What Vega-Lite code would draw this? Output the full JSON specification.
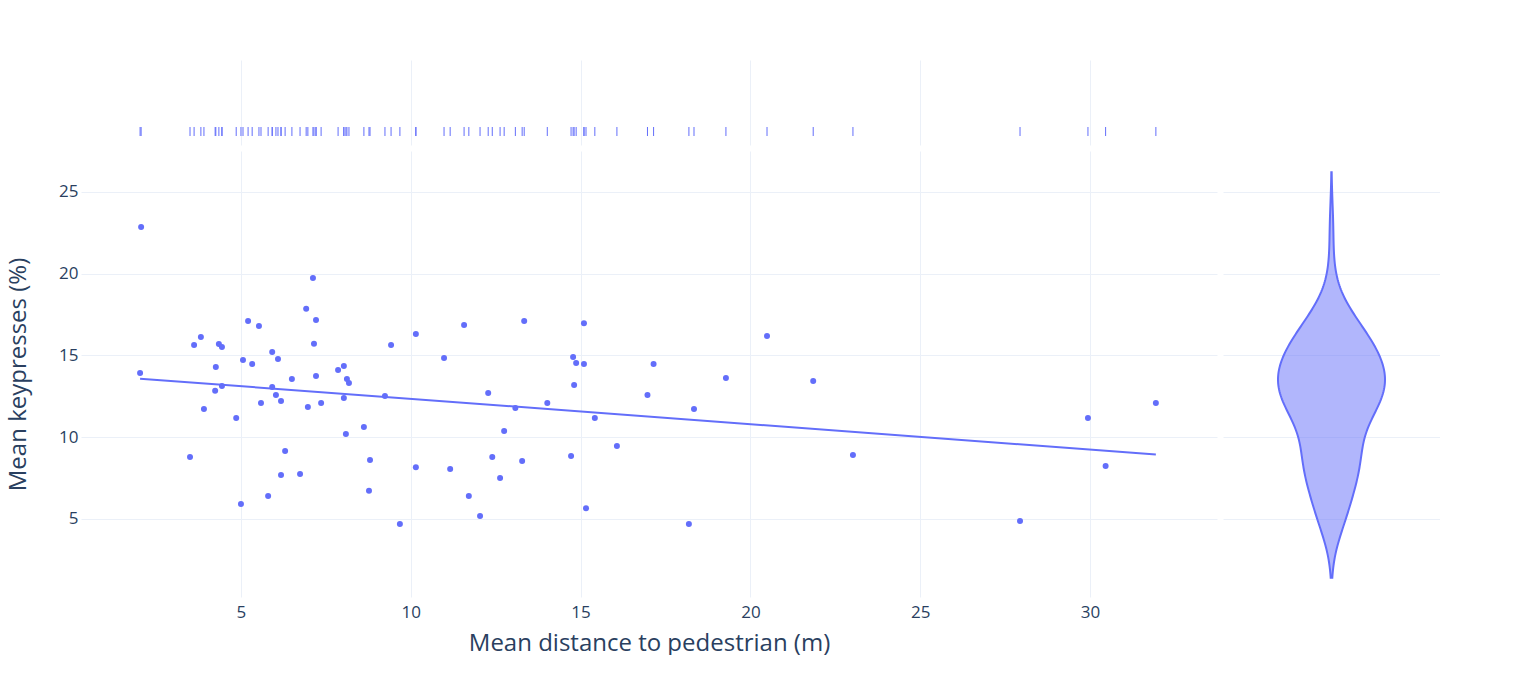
{
  "$schema": "https://vega.github.io/schema/vega-lite/v6.json",
  "background": "white",
  "padding": {"left": 6, "top": 60, "right": 0, "bottom": 0},
  "datasets": {
    "pts": [
      {"x": 2.06, "y": 22.85}, {"x": 2.03, "y": 13.93}, {"x": 3.50, "y": 8.79}, {"x": 3.62, "y": 15.64},
      {"x": 3.82, "y": 16.13}, {"x": 3.91, "y": 11.73}, {"x": 4.26, "y": 14.30}, {"x": 4.24, "y": 12.84},
      {"x": 4.35, "y": 15.70}, {"x": 4.44, "y": 15.52}, {"x": 4.44, "y": 13.13}, {"x": 4.86, "y": 11.18},
      {"x": 5.00, "y": 5.92}, {"x": 5.06, "y": 14.72}, {"x": 5.21, "y": 17.11}, {"x": 5.33, "y": 14.48},
      {"x": 5.53, "y": 16.80}, {"x": 5.59, "y": 12.09}, {"x": 5.80, "y": 6.41}, {"x": 5.92, "y": 15.21},
      {"x": 5.92, "y": 13.07}, {"x": 6.09, "y": 14.78}, {"x": 6.03, "y": 12.58}, {"x": 6.18, "y": 12.21},
      {"x": 6.18, "y": 7.69}, {"x": 6.30, "y": 9.16}, {"x": 6.50, "y": 13.56}, {"x": 6.74, "y": 7.75},
      {"x": 6.92, "y": 17.85}, {"x": 6.97, "y": 11.84}, {"x": 7.12, "y": 19.74}, {"x": 7.15, "y": 15.72},
      {"x": 7.21, "y": 17.17}, {"x": 7.21, "y": 13.74}, {"x": 7.36, "y": 12.09}, {"x": 7.86, "y": 14.11},
      {"x": 8.03, "y": 14.36}, {"x": 8.03, "y": 12.40}, {"x": 8.09, "y": 10.19}, {"x": 8.12, "y": 13.56},
      {"x": 8.18, "y": 13.32}, {"x": 8.62, "y": 10.62}, {"x": 8.77, "y": 6.72}, {"x": 8.80, "y": 8.61},
      {"x": 9.24, "y": 12.52}, {"x": 9.42, "y": 15.64}, {"x": 9.68, "y": 4.69}, {"x": 10.15, "y": 16.31},
      {"x": 10.15, "y": 8.17}, {"x": 10.98, "y": 14.84}, {"x": 11.16, "y": 8.05}, {"x": 11.57, "y": 16.86},
      {"x": 11.71, "y": 6.41}, {"x": 12.04, "y": 5.19}, {"x": 12.28, "y": 12.70}, {"x": 12.40, "y": 8.79},
      {"x": 12.63, "y": 7.50}, {"x": 12.75, "y": 10.38}, {"x": 13.08, "y": 11.79}, {"x": 13.28, "y": 8.55},
      {"x": 13.34, "y": 17.11}, {"x": 14.02, "y": 12.09}, {"x": 14.72, "y": 8.85}, {"x": 14.78, "y": 14.90},
      {"x": 14.87, "y": 14.54}, {"x": 14.81, "y": 13.19}, {"x": 15.10, "y": 16.97}, {"x": 15.10, "y": 14.48},
      {"x": 15.16, "y": 5.66}, {"x": 15.42, "y": 11.18}, {"x": 16.07, "y": 9.46}, {"x": 16.97, "y": 12.58},
      {"x": 17.15, "y": 14.48}, {"x": 18.34, "y": 11.73}, {"x": 18.19, "y": 4.69}, {"x": 19.28, "y": 13.62},
      {"x": 20.49, "y": 16.19}, {"x": 21.85, "y": 13.44}, {"x": 23.02, "y": 8.91}, {"x": 27.94, "y": 4.88},
      {"x": 29.94, "y": 11.18}, {"x": 30.46, "y": 8.24}, {"x": 31.94, "y": 12.09}
    ]
  },
  "bounds": "flush",
  "spacing": 6,
  "vconcat": [
    {
      "width": 1136,
      "height": 85,
      "data": {"name": "pts"},
      "mark": {"type": "tick", "orient": "vertical", "color": "#636efa", "thickness": 1, "size": 9, "opacity": 1},
      "encoding": {
        "x": {"field": "x", "type": "quantitative", "scale": {"domain": [0.29, 33.74], "nice": false, "zero": false},
              "axis": {"values": [5, 10, 15, 20, 25, 30], "labels": false, "title": null}},
        "y": {"datum": 0.16, "type": "quantitative", "scale": {"domain": [0, 1]}, "axis": null}
      }
    },
    {
      "bounds": "flush",
      "spacing": 6,
      "hconcat": [
        {
          "width": 1136,
          "height": 446,
          "data": {"name": "pts"},
          "encoding": {
            "x": {"field": "x", "type": "quantitative", "title": "Mean distance to pedestrian (m)",
                  "scale": {"domain": [0.29, 33.74], "nice": false, "zero": false},
                  "axis": {"values": [5, 10, 15, 20, 25, 30], "labelPadding": 7, "titlePadding": 11}},
            "y": {"field": "y", "type": "quantitative", "title": "Mean keypresses (%)",
                  "scale": {"domain": [0.23, 27.5], "nice": false, "zero": false},
                  "axis": {"values": [5, 10, 15, 20, 25], "labelPadding": 3, "titlePadding": 28}}
          },
          "layer": [
            {"mark": {"type": "circle", "color": "#636efa", "size": 36, "opacity": 1}},
            {
              "transform": [{"regression": "y", "on": "x", "method": "linear"}],
              "mark": {"type": "line", "color": "#636efa", "strokeWidth": 2}
            }
          ]
        },
        {
          "width": 217,
          "height": 446,
          "data": {"name": "pts"},
          "transform": [{"density": "y", "bandwidth": 1.65, "extent": [1.41, 26.2], "steps": 200}],
          "mark": {"type": "area", "orient": "horizontal", "color": "#636efa", "fillOpacity": 0.5, "stroke": "#636efa", "strokeWidth": 2},
          "encoding": {
            "x": {"field": "density", "type": "quantitative", "stack": "center",
                  "scale": {"nice": false, "zero": false, "padding": 55}, "axis": null},
            "y": {"field": "value", "type": "quantitative",
                  "scale": {"domain": [0.23, 27.5], "nice": false, "zero": false},
                  "axis": {"values": [5, 10, 15, 20, 25], "labels": false, "title": null}}
          }
        }
      ]
    }
  ],
  "config": {
    "view": {"stroke": null},
    "font": "Open Sans",
    "axis": {
      "domain": false,
      "ticks": false,
      "grid": true,
      "gridColor": "#ebf0f8",
      "gridWidth": 1,
      "labelColor": "#2a3f5f",
      "titleColor": "#2a3f5f",
      "labelFont": "Open Sans",
      "titleFont": "Open Sans",
      "labelFontSize": 17,
      "titleFontSize": 24,
      "titleFontWeight": "normal"
    }
  }
}
